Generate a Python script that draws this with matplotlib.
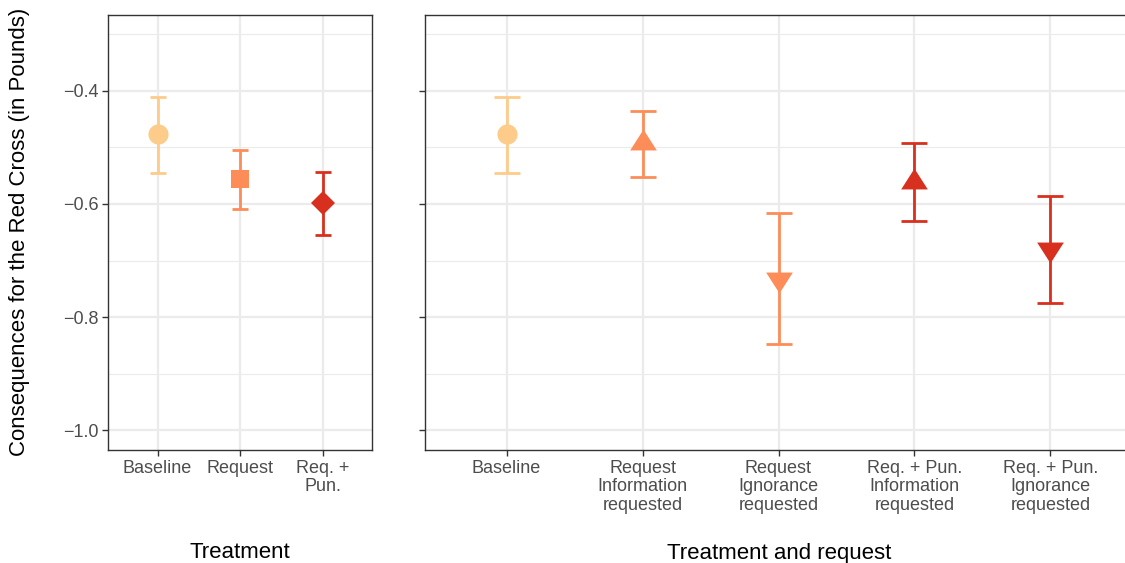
import matplotlib
matplotlib.use("Agg")
import matplotlib.pyplot as plt
from matplotlib.ticker import MultipleLocator

plt.rcParams['font.family'] = ['Liberation Sans', 'DejaVu Sans']

# ---- data ----
left_labels = ["Baseline", "Request", "Req. +\nPun."]
left_mean = [-0.477, -0.556, -0.599]
left_low = [-0.545, -0.609, -0.655]
left_high = [-0.411, -0.504, -0.543]
left_colors = ["#FDCC8A", "#FC8D59", "#D7301F"]
left_markers = ["o", "s", "D"]

right_labels = ["Baseline", "Request\nInformation\nrequested", "Request\nIgnorance\nrequested",
                "Req. + Pun.\nInformation\nrequested", "Req. + Pun.\nIgnorance\nrequested"]
right_mean = [-0.477, -0.493, -0.732, -0.561, -0.680]
right_low = [-0.545, -0.552, -0.848, -0.630, -0.775]
right_high = [-0.411, -0.435, -0.616, -0.492, -0.586]
right_colors = ["#FDCC8A", "#FC8D59", "#FC8D59", "#D7301F", "#D7301F"]
right_markers = ["o", "up", "down", "up", "down"]

y_ticks = [-1.0, -0.8, -0.6, -0.4]

# custom triangles centred on centroid
TRI_UP = [(0, 1.0), (-0.96, -0.5), (0.96, -0.5), (0, 1.0)]
TRI_DOWN = [(0, -1.0), (-0.96, 0.5), (0.96, 0.5), (0, -1.0)]

fig = plt.figure(figsize=(11.25, 5.63), dpi=100)
H = 563.0
W = 1125.0
axL = fig.add_axes([108 / W, 1 - 450 / H, (372 - 108) / W, (450 - 15) / H])
axR = fig.add_axes([425 / W, 1 - 450 / H, (1132 - 425) / W, (450 - 15) / H])

ylim = (-1.035, -0.266)


def style(ax, n, labels, show_ylabels):
    ax.set_ylim(*ylim)
    ax.set_xlim(1 - 0.6, n + 0.6)
    ax.set_xticks(range(1, n + 1))
    ax.set_xticklabels(labels, linespacing=1.13)
    ax.set_yticks(y_ticks)
    ax.yaxis.set_minor_locator(MultipleLocator(0.1))
    ax.set_yticklabels([f"\u2212{abs(v):.1f}" for v in y_ticks] if show_ylabels else [])
    ax.grid(True, which='major', color='#EBEBEB', linewidth=1.6, zorder=0)
    ax.grid(True, which='minor', axis='y', color='#EBEBEB', linewidth=0.8, zorder=0)
    ax.set_axisbelow(True)
    ax.tick_params(axis='both', which='major', length=4, width=1.0, color='#333333',
                   labelcolor='#4D4D4D', labelsize=13, pad=3)
    ax.tick_params(axis='y', which='minor', length=0)
    for s in ax.spines.values():
        s.set_color('#333333')
        s.set_linewidth(1.0)


def draw(ax, means, lows, highs, colors, markers, capsize):
    for i, (m, lo, hi, c, mk) in enumerate(zip(means, lows, highs, colors, markers)):
        x = i + 1
        ax.errorbar([x], [m], yerr=[[m - lo], [hi - m]], fmt='none', ecolor=c,
                    elinewidth=2.0, capsize=capsize, capthick=2.0, zorder=3)
        if mk == "up":
            ax.plot([x], [m], marker=TRI_UP, markersize=20, color=c, mew=0, zorder=4)
        elif mk == "down":
            ax.plot([x], [m], marker=TRI_DOWN, markersize=20, color=c, mew=0, zorder=4)
        elif mk == "o":
            ax.plot([x], [m], marker='o', markersize=14.5, color=c, mew=0, zorder=4)
        elif mk == "s":
            ax.plot([x], [m], marker='s', markersize=12.8, color=c, mew=0, zorder=4)
        elif mk == "D":
            ax.plot([x], [m], marker='D', markersize=12.5, color=c, mew=0, zorder=4)


style(axL, 3, left_labels, True)
style(axR, 5, right_labels, False)
draw(axL, left_mean, left_low, left_high, left_colors, left_markers, 6.0)
draw(axR, right_mean, right_low, right_high, right_colors, right_markers, 9.7)

fig.text(20 / W, 1 - 232 / H, "Consequences for the Red Cross (in Pounds)", fontsize=16,
         rotation=90, ha='center', va='center')
fig.text(240 / W, 1 - 553 / H, "Treatment", fontsize=16, ha='center', va='center')
fig.text(779 / W, 1 - 553 / H, "Treatment and request", fontsize=16, ha='center', va='center')

fig.savefig("out.png", dpi=100)
